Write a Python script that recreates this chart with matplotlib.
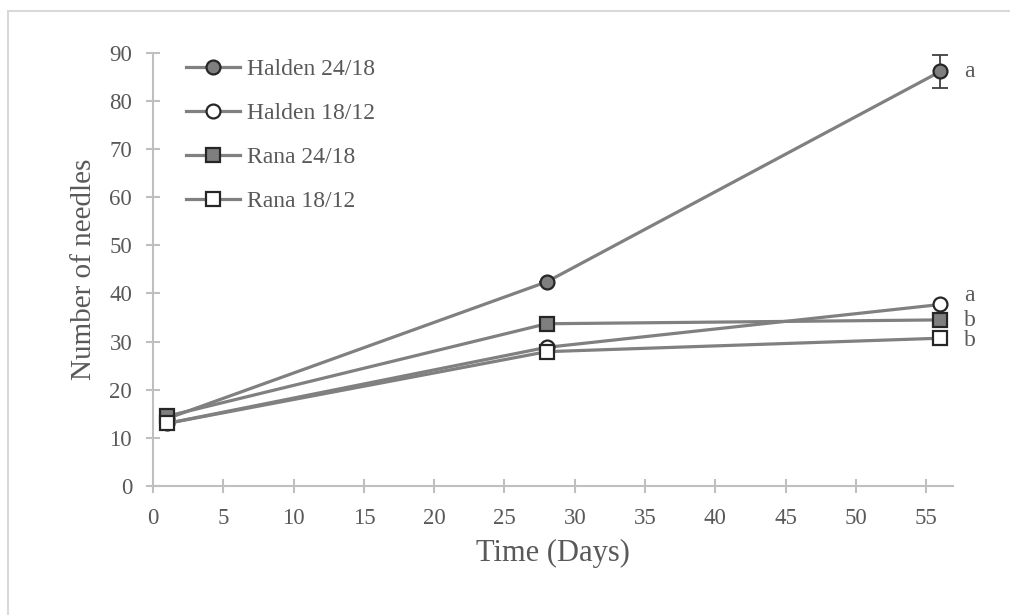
import matplotlib
matplotlib.use("Agg")
import matplotlib.pyplot as plt
from matplotlib.patches import Rectangle

days = [1, 28, 56]
series_names = ["Halden 24/18", "Halden 18/12", "Rana 24/18", "Rana 18/12"]
halden_24_18 = [14.0, 42.4, 86.1]
halden_18_12 = [13.0, 28.8, 37.7]
rana_24_18 = [14.5, 33.7, 34.5]
rana_18_12 = [13.0, 27.9, 30.7]
halden_24_18_err = [0.0, 0.0, 3.4]
sig_letters = ["a", "a", "b", "b"]
letter_y = [86.1, 39.6, 34.4, 30.3]
xticks = [0, 5, 10, 15, 20, 25, 30, 35, 40, 45, 50, 55]
yticks = [0, 10, 20, 30, 40, 50, 60, 70, 80, 90]

plt.rcParams['font.family'] = ['Liberation Serif', 'DejaVu Serif']
TXT = '#595959'
AX = '#BFBFBF'
LINE = '#808080'
EDGE = '#262626'
FILL = '#7F7F7F'

fig = plt.figure(figsize=(10.10, 6.15), dpi=100)
fig.patches.append(Rectangle((8/1010, -0.1), 1.2, 1 - 11/615 + 0.1, transform=fig.transFigure,
                             fill=False, edgecolor='#D9D9D9', linewidth=1.5))
ax = fig.add_axes([153/1010, 1 - 486/615, (953 - 153)/1010, (486 - 52.7)/615])

styles = [
    (halden_24_18, 'o', FILL),
    (halden_18_12, 'o', 'white'),
    (rana_24_18, 's', FILL),
    (rana_18_12, 's', 'white'),
]
for name, (vals, mk, fc) in zip(series_names, styles):
    ax.plot(days, vals, color=LINE, lw=2.3, marker=mk, markersize=10 if mk == 'o' else 9.5,
            markerfacecolor=fc, markeredgecolor=EDGE, markeredgewidth=1.6, label=name,
            clip_on=False, zorder=3)
ax.errorbar(days, halden_24_18, yerr=halden_24_18_err, fmt='none', ecolor='#404040',
            elinewidth=1.3, capsize=6, capthick=1.3, zorder=2)

for lt, ly in zip(sig_letters, letter_y):
    ax.text(57.7, ly, lt, fontsize=17, color=TXT, va='center', ha='left', clip_on=False)

ax.set_xlim(0, 56.9)
ax.set_ylim(0, 90)
ax.set_xticks(xticks)
ax.set_yticks(yticks)
for s in ['top', 'right']:
    ax.spines[s].set_visible(False)
for s in ['left', 'bottom']:
    ax.spines[s].set_color(AX)
    ax.spines[s].set_linewidth(1.5)
ax.tick_params(direction='inout', length=10, width=1.5, color=AX, labelcolor=TXT, labelsize=16.5)
ax.tick_params(axis='x', pad=11)
ax.tick_params(axis='y', pad=10)

ax.set_xlabel("Time (Days)", fontsize=22, color=TXT, labelpad=7)
ax.set_ylabel("Number of needles", fontsize=21, color=TXT, labelpad=9)

leg = ax.legend(loc='upper left', bbox_to_anchor=(174/1010, 1 - 47/615), bbox_transform=fig.transFigure,
                frameon=False, fontsize=17, handlelength=2.3, handletextpad=0.3, labelspacing=0.95,
                borderpad=0, labelcolor=TXT)

fig.savefig("out.png", dpi=100, facecolor='white')
